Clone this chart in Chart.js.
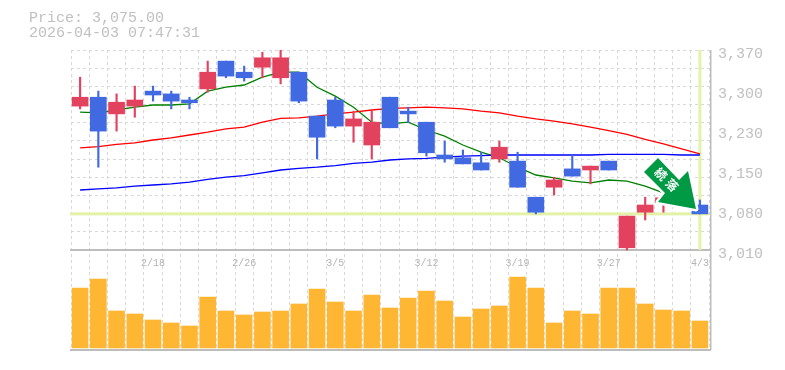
<!DOCTYPE html>
<html>
<head>
<meta charset="utf-8">
<style>
  html, body { margin: 0; padding: 0; background: #fff; }
  #wrap { width: 785px; height: 370px; }
</style>
<script src="https://cdn.jsdelivr.net/npm/chart.js@4"></script>
</head>
<body>
<div id="wrap"><canvas id="chart" width="785" height="370"></canvas></div>
<script>
const headerLines = ['Price: 3,075.00', '2026-04-03 07:47:31'];
const badgeText = ['続', '落'];
const lastPrice = 3075;

const dates = ['2/12','2/13','2/16','2/17','2/18','2/19','2/20','2/24','2/25','2/26','2/27','3/2','3/3','3/4','3/5','3/6','3/9','3/10','3/11','3/12','3/13','3/16','3/17','3/18','3/19','3/23','3/24','3/25','3/26','3/27','3/30','3/31','4/1','4/2','4/3'];
const dateLabels = ['2/18','2/26','3/5','3/12','3/19','3/27','4/3'];

const opens  = [3269,3285,3255,3269,3296,3291,3280,3300,3350,3330,3339,3320,3330,3251,3280,3233,3199,3285,3260,3240,3181,3176,3167,3174,3170,3105,3123,3156,3154,3170,3014,3078,3095,3123,3091];
const highs  = [3321,3296,3291,3305,3305,3296,3285,3350,3350,3341,3366,3370,3330,3251,3285,3260,3260,3285,3267,3240,3206,3190,3186,3206,3186,3105,3141,3181,3161,3170,3071,3105,3110,3131,3100];
const lows   = [3264,3159,3224,3249,3278,3264,3264,3294,3320,3314,3320,3309,3275,3174,3230,3204,3174,3230,3239,3179,3168,3165,3154,3168,3123,3075,3109,3143,3129,3154,3010,3064,3078,3095,3075];
const closes = [3285,3224,3276,3280,3289,3278,3275,3330,3323,3320,3356,3356,3278,3213,3233,3246,3240,3230,3255,3185,3174,3165,3154,3195,3123,3078,3136,3143,3161,3154,3071,3091,3104,3104,3075];

const ma5  = [3258,3257,3262,3267,3271,3271,3273,3296,3303,3307,3321,3330,3330,3303,3287,3267,3240,3237,3240,3226,3215,3199,3186,3176,3159,3145,3140,3134,3131,3136,3134,3125,3113,3100,3087];
const ma25 = [3194,3196,3200,3203,3208,3212,3217,3222,3228,3231,3240,3247,3248,3251,3255,3258,3262,3265,3266,3267,3266,3264,3260,3257,3251,3246,3242,3237,3231,3225,3218,3209,3201,3192,3183];
const ma75 = [3118,3120,3122,3125,3127,3129,3132,3137,3141,3144,3149,3154,3157,3159,3162,3166,3168,3172,3174,3175,3177,3179,3180,3181,3181,3181,3181,3181,3181,3182,3182,3182,3182,3181,3181];

const volumes = [60,69,37,34,28,25,22,51,37,33,36,37,44,59,46,37,53,40,50,57,47,31,39,42,71,60,25,37,34,60,60,44,38,37,27];

const priceTicks = [3010,3082,3154,3226,3298,3370];
const priceTickLabels = ['3,010','3,080','3,150','3,230','3,300','3,370'];
const gridTicks = [3010,3042.7,3075.5,3108.2,3140.9,3173.6,3206.4,3239.1,3271.8,3304.5,3337.3,3370];

const UP = '#e3425f';
const DOWN = '#4169e1';
const GREY = '#c0c0c0';
const MONO = '"Liberation Mono", monospace';

const candleColors = closes.map((c, i) => c >= opens[i] ? UP : DOWN);

// frame, price line and crosshair go under the marks, header and arrow on top
const extras = {
    id: 'extras',
    beforeDatasetsDraw(chart) {
        const { ctx, chartArea: a, scales } = chart;
        const py = scales.y.getPixelForValue(lastPrice);
        const px = scales.x.getPixelForValue(dates.length - 1);
        ctx.save();
        ctx.fillStyle = '#e4f2a8';
        ctx.fillRect(a.left - 1, py - 1.5, a.right - a.left + 1, 3);
        ctx.fillRect(px - 1.5, a.top, 3, scales.y.getPixelForValue(3010) - a.top);
        ctx.fillStyle = '#bdbdbd';
        ctx.fillRect(a.left - 1, a.bottom - 1, a.right - a.left + 3, 2);
        ctx.fillRect(a.right + 1, a.top, 1.5, a.bottom - a.top);
        ctx.restore();
    },
    afterDraw(chart) {
        const { ctx } = chart;
        ctx.save();
        ctx.fillStyle = GREY;
        ctx.font = '15px ' + MONO;
        ctx.textBaseline = 'middle';
        ctx.fillText(headerLines[0], 29, 18);
        ctx.fillText(headerLines[1], 29, 33);

        // green arrow badge with a white edge
        ctx.beginPath();
        ctx.moveTo(658, 158);
        ctx.lineTo(644, 172);
        ctx.lineTo(665, 193);
        ctx.lineTo(658, 202);
        ctx.lineTo(696, 209);
        ctx.lineTo(688, 171);
        ctx.lineTo(679, 180);
        ctx.closePath();
        ctx.strokeStyle = '#fff';
        ctx.lineWidth = 5;
        ctx.lineJoin = 'round';
        ctx.stroke();
        ctx.fillStyle = '#009944';
        ctx.fill();
        ctx.fillStyle = '#fff';
        ctx.font = 'bold 12px "Noto Sans CJK JP"';
        ctx.textAlign = 'center';
        ctx.textBaseline = 'middle';
        [[661, 174], [672, 185]].forEach((pos, i) => {
            ctx.save();
            ctx.translate(pos[0], pos[1]);
            ctx.rotate(Math.PI / 4);
            ctx.fillText(badgeText[i], 0, 0);
            ctx.restore();
        });
        ctx.restore();
    }
};

new Chart(document.getElementById('chart').getContext('2d'), {
    data: {
        labels: dates,
        datasets: [
            { type: 'bar', yAxisID: 'yVol', data: volumes, backgroundColor: '#ffb733', barThickness: 16, order: 3 },
            { type: 'line', data: ma75, borderColor: '#0000ff', borderWidth: 1.3, pointRadius: 0, tension: 0, order: 2 },
            { type: 'line', data: ma25, borderColor: '#ff0000', borderWidth: 1.3, pointRadius: 0, tension: 0, order: 2 },
            { type: 'line', data: ma5, borderColor: '#008000', borderWidth: 1.3, pointRadius: 0, tension: 0, order: 2 },
            { type: 'bar', data: lows.map((l, i) => [l, highs[i]]), backgroundColor: candleColors, barThickness: 1.5, order: 1 },
            { type: 'bar', data: opens.map((o, i) => [o, closes[i]]), backgroundColor: candleColors, barThickness: 16, order: 0 }
        ]
    },
    options: {
        responsive: false,
        animation: false,
        layout: { padding: { left: 71, top: 50, right: 0, bottom: 20 } },
        plugins: { legend: { display: false }, tooltip: { enabled: false } },
        datasets: { bar: { grouped: false } },
        scales: {
            x: {
                type: 'category',
                position: { y: 3010 },
                offset: true,
                grid: { offset: true, color: '#d8d8d8', lineWidth: 1, drawTicks: false },
                border: { dash: [3, 3], display: true, color: '#bdbdbd', width: 2 },
                ticks: {
                    autoSkip: false, maxRotation: 0, minRotation: 0, padding: 7,
                    color: '#b4b4b4', font: { family: MONO, size: 10 },
                    callback(value) {
                        const d = dates[value];
                        return dateLabels.includes(d) ? d : '';
                    }
                }
            },
            y: {
                position: 'right',
                min: 2830, max: 3370,
                afterFit(scale) { scale.width = 76; },
                afterBuildTicks(scale) { scale.ticks = priceTicks.map(v => ({ value: v })); },
                grid: { display: false },
                border: { display: false },
                ticks: {
                    padding: 1, labelOffset: 4, color: GREY, crossAlign: 'near',
                    font: { family: MONO, size: 15 },
                    callback(value) { return priceTickLabels[priceTicks.indexOf(value)]; }
                }
            },
            yGrid: {
                position: 'left',
                min: 2830, max: 3370,
                afterFit(scale) { scale.width = 0; },
                afterBuildTicks(scale) { scale.ticks = gridTicks.map(v => ({ value: v })); },
                grid: { color: '#d8d8d8', lineWidth: 1, drawTicks: false },
                border: { display: false, dash: [3, 3] },
                ticks: { display: false }
            },
            yVol: {
                display: false,
                min: -2, max: 298
            }
        }
    },
    plugins: [extras]
});
</script>
</body>
</html>
